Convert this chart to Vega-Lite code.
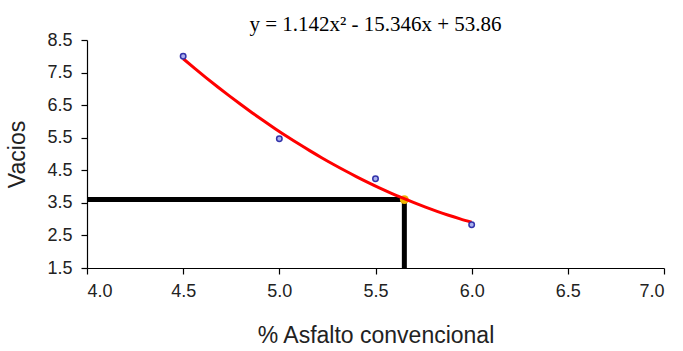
{
  "$schema": "https://vega.github.io/schema/vega-lite/v6.json",
  "autosize": "none",
  "padding": {"left": 87, "top": 40, "right": 19, "bottom": 83},
  "width": 577,
  "height": 228,
  "background": "white",
  "title": {
    "text": "y = 1.142x² - 15.346x + 53.86",
    "font": "Liberation Serif",
    "fontSize": 21,
    "fontWeight": "normal",
    "color": "black",
    "anchor": "middle",
    "offset": -4
  },
  "datasets": {
    "pts": [
      {"asfalto": 4.5, "vacios": 8.0},
      {"asfalto": 5.0, "vacios": 5.47},
      {"asfalto": 5.5, "vacios": 4.24},
      {"asfalto": 6.0, "vacios": 2.83}
    ],
    "guides": [
      {"x1": 4.0, "x2": 5.65, "y1": 3.6, "y2": 3.6},
      {"x1": 5.65, "x2": 5.65, "y1": 1.5, "y2": 3.6}
    ],
    "opt": [{"asfalto": 5.65, "vacios": 3.6}]
  },
  "config": {
    "view": {"stroke": null},
    "axis": {
      "grid": false,
      "domainColor": "black",
      "tickColor": "black",
      "domainWidth": 1.2,
      "tickWidth": 1.2,
      "tickSize": 6,
      "labelOverlap": false,
      "labelFont": "Liberation Sans",
      "labelFontSize": 18,
      "labelColor": "#222222",
      "titleFont": "Liberation Sans",
      "titleFontSize": 23,
      "titleFontWeight": "normal",
      "titleColor": "#222222"
    }
  },
  "layer": [
    {
      "data": {"name": "guides"},
      "mark": {"type": "rule", "color": "black", "strokeWidth": 5, "strokeCap": "butt"},
      "encoding": {
        "x": {"field": "x1", "type": "quantitative", "scale": {"domain": [4.0, 7.0], "nice": false, "zero": false},
          "axis": {"values": [4.0, 4.5, 5.0, 5.5, 6.0, 6.5, 7.0], "tickCount": 20, "format": ".1f", "title": "% Asfalto convencional", "labelPadding": 8, "titlePadding": 24, "labelOverlap": false}},
        "x2": {"field": "x2"},
        "y": {"field": "y1", "type": "quantitative", "scale": {"domain": [1.5, 8.5], "nice": false, "zero": false},
          "axis": {"values": [1.5, 2.5, 3.5, 4.5, 5.5, 6.5, 7.5, 8.5], "tickCount": 20, "format": ".1f", "title": "Vacios", "labelPadding": 9, "titlePadding": 17, "labelOverlap": false, "labelBound": false, "labelFlush": false}},
        "y2": {"field": "y2"}
      }
    },
    {
      "data": {"name": "opt"},
      "mark": {"type": "point", "shape": "circle", "filled": true, "color": "#f0b400", "size": 80, "opacity": 1},
      "encoding": {
        "x": {"field": "asfalto", "type": "quantitative"},
        "y": {"field": "vacios", "type": "quantitative"}
      }
    },
    {
      "data": {"name": "pts"},
      "transform": [
        {"regression": "vacios", "on": "asfalto", "method": "poly", "order": 2, "extent": [4.5, 6.0]}
      ],
      "mark": {"type": "line", "color": "#ff0000", "strokeWidth": 3, "interpolate": "monotone"},
      "encoding": {
        "x": {"field": "asfalto", "type": "quantitative"},
        "y": {"field": "vacios", "type": "quantitative"}
      }
    },
    {
      "data": {"name": "pts"},
      "mark": {"type": "point", "shape": "circle", "filled": false, "color": "#3333aa", "fill": "#aab0ee", "fillOpacity": 1, "strokeWidth": 1.5, "size": 30, "opacity": 1},
      "encoding": {
        "x": {"field": "asfalto", "type": "quantitative"},
        "y": {"field": "vacios", "type": "quantitative"}
      }
    }
  ]
}
